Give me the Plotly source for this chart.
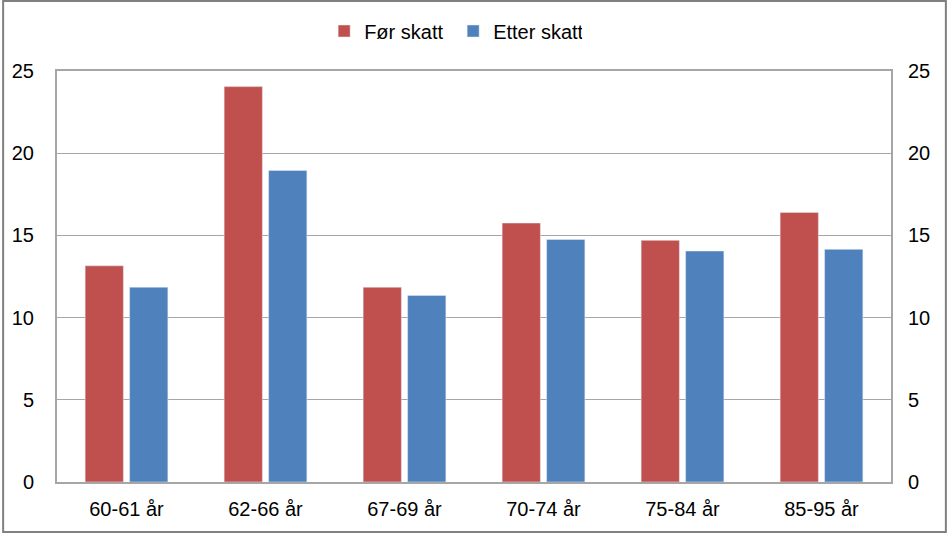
import plotly.graph_objects as go

categories = ["60-61 år", "62-66 år", "67-69 år", "70-74 år", "75-84 år", "85-95 år"]
for_skatt = [13.15, 24.05, 11.85, 15.75, 14.7, 16.4]
etter_skatt = [11.85, 18.95, 11.35, 14.75, 14.05, 14.15]
tick_vals = [0, 5, 10, 15, 20, 25]

W, H = 947, 533
L, R, T, B = 55, 56, 71, 51
pw, ph = W - L - R, H - T - B

fig = go.Figure()
fig.add_trace(go.Bar(name="Før skatt", x=categories, y=for_skatt, marker_color="#C0504D"))
fig.add_trace(go.Bar(name="Etter skatt", x=categories, y=etter_skatt, marker_color="#4F81BD"))
fig.add_trace(go.Scatter(x=categories, y=for_skatt, yaxis="y2", mode="markers",
                         marker=dict(opacity=0), showlegend=False, hoverinfo="skip"))

FS = 20
font = dict(family="Liberation Sans, Arial, sans-serif", size=FS, color="#000000")

fig.update_layout(
    width=W, height=H,
    margin=dict(l=L, r=R, t=T, b=B),
    paper_bgcolor="white", plot_bgcolor="white",
    font=font,
    barmode="group", bargap=0.36, bargroupgap=0.14,
    legend=dict(orientation="h", x=0.475, xanchor="center", y=1 + 40 / ph, yanchor="middle",
                font=dict(size=FS), entrywidth=84, traceorder="normal"),
    xaxis=dict(showline=True, linecolor="#A6A6A6", linewidth=2, mirror=True,
               ticks="", ticklabelstandoff=8, tickfont=dict(size=FS)),
    yaxis=dict(range=[0, 25], tickvals=tick_vals, showgrid=True, gridcolor="#A6A6A6",
               gridwidth=1, showline=True, linecolor="#A6A6A6", linewidth=2, mirror=True,
               ticks="", ticklabelstandoff=17, zeroline=False, tickfont=dict(size=FS)),
    yaxis2=dict(range=[0, 25], tickvals=tick_vals, overlaying="y", side="right",
                showgrid=False, ticks="", ticklabelstandoff=16, zeroline=False,
                showline=False, tickfont=dict(size=FS)),
    shapes=[dict(type="rect", xref="paper", yref="paper",
                 x0=(-L + 1) / pw, x1=1 + (R - 1) / pw,
                 y0=(-B + 1) / ph, y1=1 + (T - 1) / ph,
                 line=dict(color="#808080", width=2), layer="above")],
)

fig.write_html("out.html")
